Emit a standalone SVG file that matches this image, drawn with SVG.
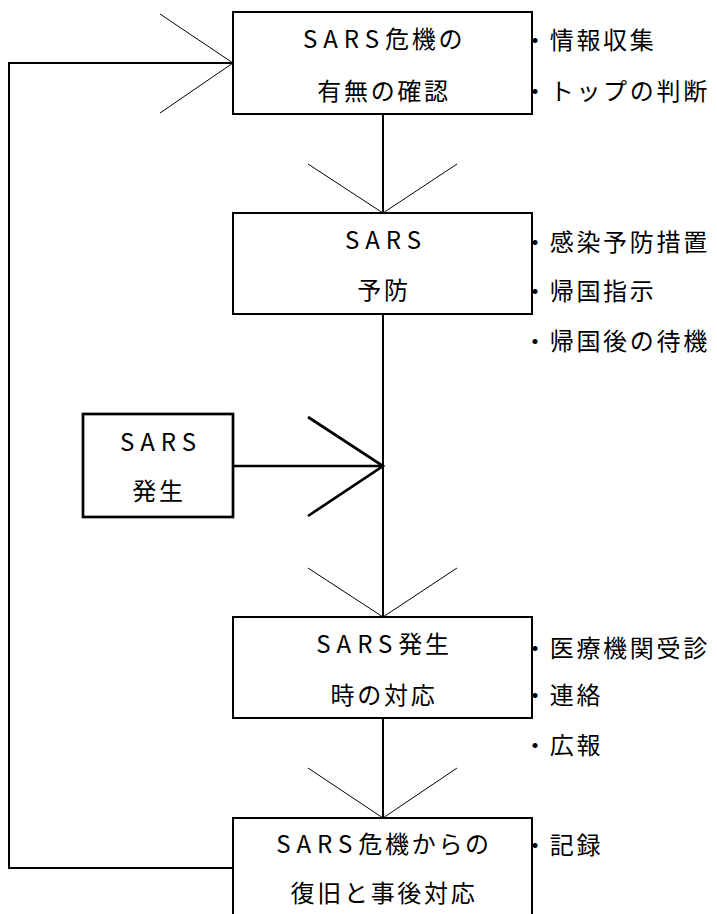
<svg xmlns="http://www.w3.org/2000/svg" width="717" height="914" viewBox="0 0 717 914">
<style>
.box{fill:#fff;stroke:#000;stroke-width:2}
.box3{fill:#fff;stroke:#000;stroke-width:2.7}
.ln{fill:none;stroke:#000;stroke-width:2}
.thin{fill:none;stroke:#000;stroke-width:1}
.thick{fill:none;stroke:#000;stroke-width:2.7}
text{font-family:"Noto Sans CJK JP","Noto Sans",sans-serif;font-size:24px;fill:#000;letter-spacing:2.7px}
.c{text-anchor:middle}
.lat{letter-spacing:6px}
</style>
<rect width="717" height="914" fill="#fff"/>
<g id="connectors">
<polyline class="ln" points="233,63 9,63 9,868 233,868"/>
<polyline class="thin" points="160,14 233,63 160,113"/>
<line class="ln" x1="383" y1="114" x2="383" y2="213"/>
<polyline class="thin" points="308,164 383,213 457,164"/>
<line class="ln" x1="383" y1="314" x2="383" y2="617"/>
<line class="thick" x1="233" y1="466" x2="383" y2="466"/>
<polyline class="thick" points="308,417 383,466 308,516"/>
<polyline class="thin" points="308,568 383,617 457,568"/>
<line class="ln" x1="383" y1="718" x2="383" y2="818"/>
<polyline class="thin" points="308,768 383,818 457,768"/>
</g>
<g id="n1">
<rect class="box" x="233" y="12" width="299" height="102"/>
<text class="c" x="384" y="48"><tspan class="lat">SARS</tspan>危機の</text>
<text class="c" x="384" y="100">有無の確認</text>
<text x="523" y="49">・情報収集</text>
<text x="523" y="100">・トップの判断</text>
</g>
<g id="n2">
<rect class="box" x="233" y="213" width="299" height="101"/>
<text class="c" x="386" y="249"><tspan class="lat">SARS</tspan></text>
<text class="c" x="384" y="299">予防</text>
<text x="523" y="251">・感染予防措置</text>
<text x="523" y="300">・帰国指示</text>
<text x="523" y="350">・帰国後の待機</text>
</g>
<g id="n3">
<rect class="box3" x="83" y="414" width="150" height="103"/>
<text class="c" x="161" y="451"><tspan class="lat">SARS</tspan></text>
<text class="c" x="159" y="500">発生</text>
</g>
<g id="n4">
<rect class="box" x="233" y="617" width="299" height="101"/>
<text class="c" x="384" y="653"><tspan class="lat">SARS</tspan>発生</text>
<text class="c" x="384" y="704">時の対応</text>
<text x="523" y="657">・医療機関受診</text>
<text x="523" y="704">・連絡</text>
<text x="523" y="754">・広報</text>
</g>
<g id="n5">
<rect class="box" x="233" y="818" width="299" height="110"/>
<text class="c" x="384" y="853"><tspan class="lat">SARS</tspan>危機からの</text>
<text class="c" x="384" y="902">復旧と事後対応</text>
<text x="523" y="854">・記録</text>
</g>
</svg>
